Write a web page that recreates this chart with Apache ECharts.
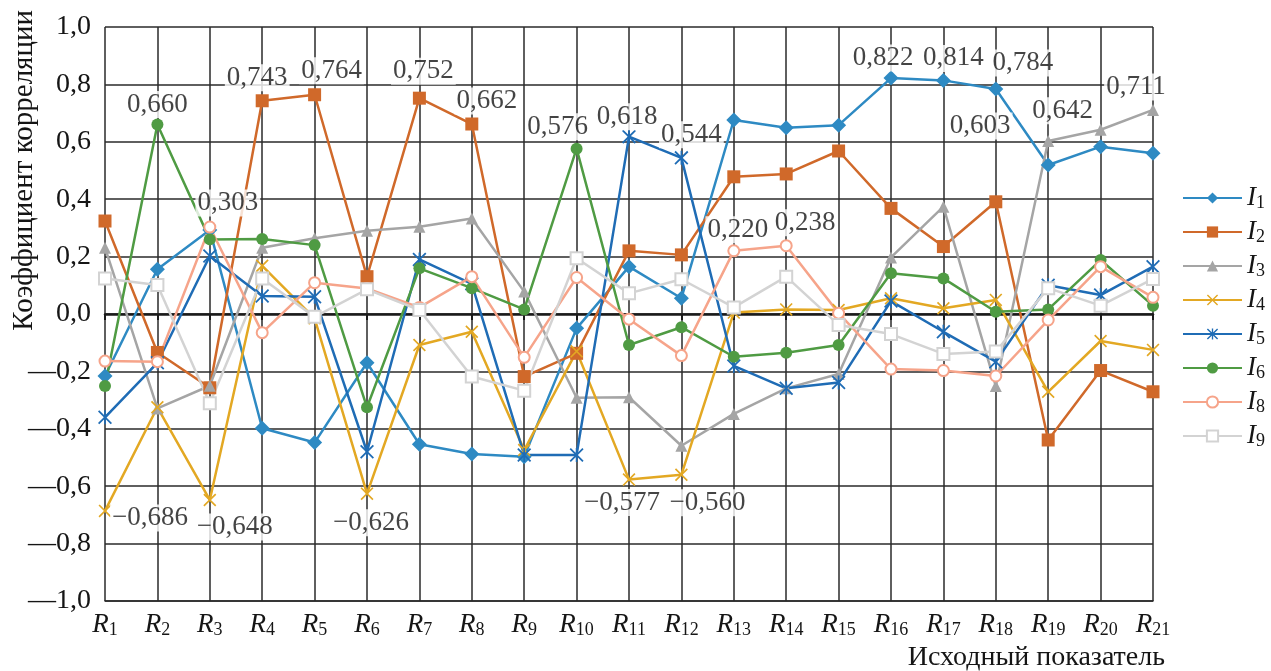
<!DOCTYPE html>
<html>
<head>
<meta charset="utf-8">
<script src="https://cdn.jsdelivr.net/npm/echarts@6/dist/echarts.min.js"></script>
<style>
  html, body { margin: 0; padding: 0; background: #fff; }
  #main { width: 1271px; height: 671px; }
</style>
</head>
<body>
<div id="main"></div>
<script>
var categories = ['R1','R2','R3','R4','R5','R6','R7','R8','R9','R10','R11','R12','R13','R14','R15','R16','R17','R18','R19','R20','R21'];
var yTicks = [-1, 1, 0.2]; // min, max, interval

var I1 = [-0.216, 0.156, 0.293, -0.398, -0.448, -0.170, -0.454, -0.488, -0.497, -0.050, 0.165, 0.055, 0.676, 0.649, 0.658, 0.822, 0.814, 0.784, 0.519, 0.583, 0.560];
var I2 = [0.324, -0.134, -0.257, 0.743, 0.764, 0.130, 0.752, 0.662, -0.218, -0.137, 0.220, 0.206, 0.478, 0.488, 0.568, 0.368, 0.235, 0.391, -0.439, -0.197, -0.271];
var I3 = [0.231, -0.329, -0.250, 0.231, 0.264, 0.290, 0.304, 0.333, 0.078, -0.292, -0.290, -0.459, -0.348, -0.259, -0.209, 0.197, 0.374, -0.251, 0.603, 0.642, 0.711];
var I4 = [-0.686, -0.325, -0.648, 0.168, -0.015, -0.626, -0.108, -0.062, -0.474, -0.130, -0.577, -0.560, 0.005, 0.016, 0.014, 0.055, 0.020, 0.049, -0.271, -0.094, -0.125];
var I5 = [-0.360, -0.170, 0.202, 0.063, 0.060, -0.480, 0.190, 0.105, -0.491, -0.491, 0.618, 0.544, -0.181, -0.259, -0.239, 0.045, -0.062, -0.166, 0.100, 0.066, 0.165];
var I6 = [-0.251, 0.660, 0.260, 0.261, 0.240, -0.325, 0.159, 0.090, 0.016, 0.576, -0.108, -0.046, -0.149, -0.135, -0.108, 0.142, 0.124, 0.008, 0.016, 0.188, 0.029];
var I8 = [-0.164, -0.166, 0.303, -0.065, 0.109, 0.089, 0.023, 0.130, -0.151, 0.127, -0.018, -0.145, 0.220, 0.238, 0.003, -0.192, -0.197, -0.216, -0.021, 0.165, 0.058];
var I9 = [0.124, 0.101, -0.311, 0.124, -0.010, 0.086, 0.014, -0.218, -0.267, 0.194, 0.072, 0.121, 0.023, 0.130, -0.038, -0.070, -0.139, -0.131, 0.090, 0.029, 0.122];

// which points carry a value label, and where the label sits (px from the point)
var labelled = {
    I1: {15: [-8, -20], 16: [10, -22], 17: [27, -26]},
    I2: {3: [-5, -23], 4: [17, -24], 6: [4, -27], 7: [15, -23]},
    I3: {18: [-68, -15], 19: [-38, -19], 20: [-17, -23]},
    I4: {0: [45, 7], 2: [25, 27], 5: [4, 29], 10: [-7, 23], 11: [26, 28]},
    I5: {10: [-2, -20], 11: [10, -23]},
    I6: {1: [0, -20], 9: [-19, -22]},
    I8: {2: [18, -24], 12: [4, -21], 13: [19, -23]}
};

var serif = '"Liberation Serif", "Times New Roman", serif';
var crossPath = 'path://M0.9,0L10,9.1L9.1,10L0,0.9ZM9.1,0L10,0.9L0.9,10L0,9.1Z';
var starPath = 'path://M0.9,0L10,9.1L9.1,10L0,0.9ZM9.1,0L10,0.9L0.9,10L0,9.1ZM4.4,0L5.6,0L5.6,10L4.4,10Z';

var seriesDefs = [
    {name: 'I1', data: I1, color: '#2e8ac3', symbol: 'diamond', size: 15},
    {name: 'I2', data: I2, color: '#d0692a', symbol: 'rect', size: 13},
    {name: 'I3', data: I3, color: '#a5a5a5', symbol: 'triangle', size: 12},
    {name: 'I4', data: I4, color: '#e3a823', symbol: crossPath, size: 13},
    {name: 'I5', data: I5, color: '#1f6cb5', symbol: starPath, size: 14},
    {name: 'I6', data: I6, color: '#4f9b43', symbol: 'circle', size: 12},
    {name: 'I8', data: I8, color: '#f6a48a', symbol: 'emptyCircle', size: 11},
    {name: 'I9', data: I9, color: '#d3d3d3', symbol: 'emptyRect', size: 12}
];

function fmt(v, digits, minus) {
    var s = Math.abs(v).toFixed(digits).replace('.', ',');
    return (v < 0 ? minus : '') + s;
}

var series = seriesDefs.map(function(d) {
    return {
        name: d.name,
        type: 'line',
        xAxisIndex: 0,
        data: d.data,
        symbol: d.symbol,
        symbolSize: d.size,
        showAllSymbol: true,
        color: d.color,
        lineStyle: {width: 2.5, color: d.color},
        itemStyle: {color: d.color, borderWidth: d.symbol.indexOf('empty') === 0 ? 2 : 0},
        emphasis: {disabled: true},
        animation: false
    };
});

// value labels drawn above every line
var labelData = [];
seriesDefs.forEach(function(d) {
    var marks = labelled[d.name] || {};
    Object.keys(marks).forEach(function(k) {
        var i = +k;
        labelData.push({
            value: [i, d.data[i]],
            label: {offset: marks[k]}
        });
    });
});
series.push({
    type: 'scatter',
    name: 'labels',
    data: labelData,
    symbolSize: 1,
    itemStyle: {color: 'rgba(0,0,0,0)'},
    z: 10,
    silent: true,
    animation: false,
    label: {
        show: true,
        position: 'inside',
        formatter: function(p) { return fmt(p.value[1], 3, '\u2212'); },
        fontFamily: serif,
        fontSize: 27,
        color: '#151515',
        backgroundColor: '#fff',
        padding: [0, 2]
    }
});

var chart = echarts.init(document.getElementById('main'));
var option = {
    backgroundColor: '#fff',
    animation: false,
    grid: {left: 105, right: 118, top: 27, bottom: 70},
    legend: {
        orient: 'vertical',
        left: 1177,
        top: 179,
        itemWidth: 59,
        itemHeight: 14,
        itemGap: 6,
        data: seriesDefs.map(function(d) { return d.name; }),
        formatter: function(n) { return '{i|I}{s|' + n.slice(1) + '}'; },
        textStyle: {
            color: '#151515',
            rich: {
                i: {fontFamily: serif, fontStyle: 'italic', fontSize: 27, lineHeight: 30},
                s: {fontFamily: serif, fontSize: 18, lineHeight: 30, padding: [10, 0, 0, 0]}
            }
        }
    },
    xAxis: [
        {
            type: 'category',
            data: categories,
            boundaryGap: false,
            position: 'bottom',
            axisLine: {onZero: false, lineStyle: {color: '#2a2a2a', width: 1.5}},
            axisTick: {show: false},
            splitLine: {show: true, interval: 0, lineStyle: {color: '#2a2a2a', width: 1.5}},
            axisLabel: {
                interval: 0,
                margin: 9,
                color: '#151515',
                formatter: function(v) { return '{r|R}{s|' + v.slice(1) + '}'; },
                rich: {
                    r: {fontFamily: serif, fontStyle: 'italic', fontSize: 27, lineHeight: 30},
                    s: {fontFamily: serif, fontSize: 18, lineHeight: 30, padding: [10, 0, 0, 0]}
                }
            }
        },
        {
            type: 'category',
            data: categories,
            boundaryGap: false,
            position: 'bottom',
            axisLine: {onZero: true, lineStyle: {color: '#1a1a1a', width: 2.5}},
            axisTick: {show: true, interval: 0, length: 6, lineStyle: {color: '#1a1a1a', width: 2}},
            splitLine: {show: false},
            axisLabel: {show: false}
        }
    ],
    yAxis: {
        type: 'value',
        min: yTicks[0],
        max: yTicks[1],
        interval: yTicks[2],
        axisLine: {show: false},
        axisTick: {show: false},
        splitLine: {show: true, lineStyle: {color: '#2a2a2a', width: 1.5}},
        axisLabel: {
            margin: 14,
            color: '#151515',
            fontFamily: serif,
            fontSize: 28,
            formatter: function(v) { return fmt(v, 1, '\u2014'); }
        }
    },
    graphic: [
        {
            type: 'text',
            left: 10,
            top: 10,
            rotation: Math.PI / 2,
            style: {
                text: 'Коэффициент корреляции',
                fontFamily: serif,
                fontSize: 29,
                fill: '#151515'
            }
        },
        {
            type: 'text',
            right: 106,
            top: 644,
            style: {
                text: 'Исходный показатель',
                fontFamily: serif,
                fontSize: 28,
                fill: '#151515'
            }
        }
    ],
    series: series
};
chart.setOption(option);
</script>
</body>
</html>
